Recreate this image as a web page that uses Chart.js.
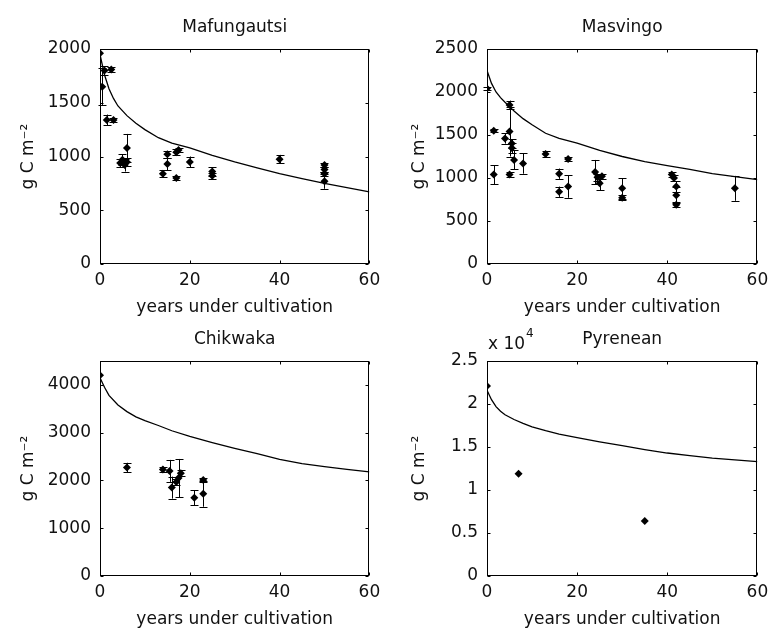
<!DOCTYPE html>
<html>
<head>
<meta charset="utf-8">
<script src="https://cdn.jsdelivr.net/npm/chart.js@4.4.0/dist/chart.umd.min.js"></script>
<style>
	body { margin: 0; background: #fff; }
	canvas { position: absolute; }
</style>
</head>
<body>
<canvas id="mafChart" style="left:0px;top:0px"></canvas>
<canvas id="masChart" style="left:387px;top:0px"></canvas>
<canvas id="chiChart" style="left:0px;top:312px"></canvas>
<canvas id="pyrChart" style="left:387px;top:312px"></canvas>
<script>
// x axis (years under cultivation)
var xTicks = [0, 20, 40, 60];

// Mafungautsi
var mafYTicks = [0, 500, 1000, 1500, 2000];
var mafYears  = [0, 0.5, 1, 2.5, 1.5, 3, 4.5, 5, 5.5, 6, 6, 14, 15, 15, 17, 17, 17.5, 20, 25, 25, 40, 50, 50, 50, 50];
var mafCarbon = [1960, 1650, 1800, 1810, 1340, 1340, 940, 970, 920, 1080, 950, 840, 930, 1020, 800, 1040, 1060, 950, 860, 820, 975, 920, 880, 840, 770];
var mafErr    = [0, 170, 40, 20, 50, 20, 40, 50, 60, 130, 40, 30, 60, 30, 20, 30, 20, 50, 40, 30, 40, 20, 20, 20, 70];
var mafCurveYears = [0, 1, 2, 3, 4, 6, 8, 10, 13, 16, 20, 25, 30, 35, 40, 45, 50, 55, 60];
var mafCurve      = [1950, 1760, 1630, 1540, 1470, 1380, 1310, 1250, 1175, 1125, 1080, 1010, 950, 895, 840, 795, 750, 710, 670];

// Masvingo
var masYTicks = [0, 500, 1000, 1500, 2000, 2500];
var masYears  = [0, 1.5, 1.5, 5, 5, 4, 5, 5.5, 5.5, 6, 8, 13, 16, 16, 18, 18, 24, 24.5, 25, 25.5, 30, 30, 41, 41.5, 42, 42, 42, 55];
var masCarbon = [2040, 1040, 1550, 1850, 1040, 1460, 1540, 1400, 1350, 1210, 1170, 1280, 1050, 840, 900, 1220, 1070, 1010, 940, 1020, 880, 770, 1040, 1000, 900, 800, 690, 880];
var masErr    = [20, 110, 15, 50, 30, 60, 290, 50, 60, 110, 120, 30, 60, 60, 130, 25, 140, 40, 80, 30, 120, 30, 30, 40, 60, 90, 30, 145];
var masCurveYears = [0, 1, 2, 3, 4, 5, 6, 8, 10, 13, 16, 20, 25, 30, 35, 40, 45, 50, 55, 60];
var masCurve      = [2250, 2100, 2000, 1935, 1880, 1830, 1780, 1690, 1620, 1520, 1460, 1405, 1320, 1250, 1190, 1145, 1100, 1050, 1015, 980];

// Chikwaka
var chiYTicks = [0, 1000, 2000, 3000, 4000];
var chiYears  = [0, 6, 14, 15.5, 16, 17, 17.5, 18, 21, 23, 23];
var chiCarbon = [4200, 2270, 2230, 2200, 1850, 1970, 2050, 2150, 1640, 2010, 1720];
var chiErr    = [0, 100, 60, 230, 230, 60, 400, 60, 160, 50, 270];
var chiCurveYears = [0, 1, 2, 4, 6, 8, 10, 13, 16, 20, 25, 30, 35, 40, 45, 50, 55, 60];
var chiCurve      = [4150, 3950, 3780, 3580, 3440, 3330, 3250, 3150, 3040, 2920, 2790, 2670, 2560, 2440, 2350, 2290, 2230, 2180];

// Pyrenean (axis labels in units of 10^4)
var pyrYTicks = [0, 5000, 10000, 15000, 20000, 25000];
var pyrYears  = [0, 7, 35];
var pyrCarbon = [22100, 11900, 6400];
var pyrErr    = [0, 0, 0];
var pyrCurveYears = [0, 1, 2, 3, 4, 6, 8, 10, 13, 16, 20, 25, 30, 35, 40, 45, 50, 55, 60];
var pyrCurve      = [21600, 20500, 19700, 19150, 18750, 18200, 17750, 17350, 16900, 16500, 16100, 15600, 15150, 14700, 14300, 14000, 13700, 13500, 13300];

var FONT = 'DejaVu Sans';
var TXT = '#111';

function toPoints(xs, ys) {
	var pts = [];
	xs.forEach(function(x, i) { pts.push({x: x, y: ys[i]}); });
	return pts;
}

// matlab style: box, inward ticks, error bars, exponent label
var matlabPlugin = {
	id: 'matlabLook',
	afterDatasetsDraw: function(chart) {
		var ctx = chart.ctx;
		var xs = chart.scales.x, ys = chart.scales.y;
		ctx.save();
		ctx.strokeStyle = '#000';
		ctx.lineWidth = 1;
		chart.data.datasets.forEach(function(ds) {
			if (!ds.errors) return;
			ds.data.forEach(function(p, i) {
				var e = ds.errors[i];
				if (!e) return;
				var px = Math.round(xs.getPixelForValue(p.x)) + 0.5;
				var y1 = ys.getPixelForValue(p.y - e);
				var y2 = ys.getPixelForValue(p.y + e);
				ctx.beginPath();
				ctx.moveTo(px, y1); ctx.lineTo(px, y2);
				ctx.moveTo(px - 4, Math.round(y1) + 0.5); ctx.lineTo(px + 4, Math.round(y1) + 0.5);
				ctx.moveTo(px - 4, Math.round(y2) + 0.5); ctx.lineTo(px + 4, Math.round(y2) + 0.5);
				ctx.stroke();
			});
		});
		ctx.restore();
	},
	afterDraw: function(chart) {
		var ctx = chart.ctx;
		var a = chart.chartArea;
		var xs = chart.scales.x, ys = chart.scales.y;
		var L = Math.round(a.left) + 0.5, R = Math.round(a.right) - 0.5;
		var T = Math.round(a.top) + 0.5, B = Math.round(a.bottom) - 0.5;
		ctx.save();
		ctx.strokeStyle = '#000';
		ctx.lineWidth = 1;
		ctx.strokeRect(L, T, R - L, B - T);
		ctx.beginPath();
		xs.ticks.forEach(function(t) {
			var px = Math.round(xs.getPixelForValue(t.value)) + 0.5;
			ctx.moveTo(px, B); ctx.lineTo(px, B - 3);
			ctx.moveTo(px, T); ctx.lineTo(px, T + 3);
		});
		ys.ticks.forEach(function(t) {
			var py = Math.round(ys.getPixelForValue(t.value)) + 0.5;
			ctx.moveTo(L, py); ctx.lineTo(L + 3, py);
			ctx.moveTo(R, py); ctx.lineTo(R - 3, py);
		});
		ctx.stroke();
		var exp = chart.options.plugins.matlabLook && chart.options.plugins.matlabLook.exponent;
		if (exp) {
			ctx.fillStyle = TXT;
			ctx.textBaseline = 'middle';
			ctx.textAlign = 'left';
			ctx.font = '17px "' + FONT + '"';
			ctx.fillText('x 10', a.left + 1, a.top - 16);
			var w = ctx.measureText('x 10').width;
			ctx.font = '12px "' + FONT + '"';
			ctx.fillText(exp, a.left + 2 + w, a.top - 27);
		}
		ctx.restore();
	}
};

function makePanel(id, cfg) {
	var canvas = document.getElementById(id);
	canvas.width = cfg.width;
	canvas.height = 320;

	var options = {
		type: 'scatter',
		data: {
			datasets: [
				{
					type: 'line',
					data: toPoints(cfg.curveYears, cfg.curve),
					borderColor: '#000',
					borderWidth: 1.3,
					pointRadius: 0,
					tension: 0,
					fill: false
				},
				{
					data: toPoints(cfg.years, cfg.carbon),
					errors: cfg.err,
					pointStyle: 'rectRot',
					pointRadius: 4,
					backgroundColor: '#000',
					borderColor: '#000',
					borderWidth: 0
				}
			]
		},
		options: {
			responsive: false,
			animation: false,
			events: [],
			layout: { padding: { left: 0, right: cfg.padRight, top: 0, bottom: 0 } },
			plugins: {
				legend: { display: false },
				tooltip: { enabled: false },
				title: {
					display: true,
					fullSize: false,
					text: cfg.title,
					color: TXT,
					font: { family: FONT, size: 17, weight: 'normal', lineHeight: 1.2 },
					padding: { top: 17.5, bottom: 11.1 }
				},
				matlabLook: { exponent: cfg.exponent }
			},
			scales: {
				x: {
					type: 'linear',
					min: 0,
					max: 60,
					afterBuildTicks: function(s) {
						s.ticks = xTicks.map(function(v) { return {value: v}; });
					},
					afterFit: function(s) { s.height = 56; },
					ticks: { padding: 6.8, color: TXT, font: { family: FONT, size: 17, lineHeight: 1.2 }, maxRotation: 0 },
					grid: { display: false, drawTicks: false },
					border: { display: false },
					title: {
						display: true,
						text: 'years under cultivation',
						color: TXT,
						font: { family: FONT, size: 17, lineHeight: 1.2 },
						padding: { top: 0, bottom: 2.3 }
					}
				},
				y: {
					type: 'linear',
					min: 0,
					max: cfg.yTicks[cfg.yTicks.length - 1] === 4000 ? 4500 : cfg.yTicks[cfg.yTicks.length - 1],
					afterBuildTicks: function(s) {
						s.ticks = cfg.yTicks.map(function(v) { return {value: v}; });
					},
					afterFit: function(s) { s.width = 100; },
					ticks: {
						padding: 9,
						color: TXT,
						font: { family: FONT, size: 17, lineHeight: 1.2 },
						callback: function(v) { return cfg.exponent ? String(v / 10000) : String(v); }
					},
					grid: { display: false, drawTicks: false },
					border: { display: false },
					title: {
						display: true,
						text: 'g C m\u207B\u00B2',
						color: TXT,
						font: { family: FONT, size: 17, lineHeight: 1.2 },
						padding: { top: cfg.yTitlePad, bottom: 0 }
					}
				}
			}
		},
		plugins: [matlabPlugin]
	};

	return new Chart(canvas, options);
}

makePanel('mafChart', {
	width: 387, padRight: 13, yTitlePad: 18.8, title: 'Mafungautsi', yTicks: mafYTicks,
	years: mafYears, carbon: mafCarbon, err: mafErr, curveYears: mafCurveYears, curve: mafCurve
});
makePanel('masChart', {
	width: 388, padRight: 12, yTitlePad: 22.8, title: 'Masvingo', yTicks: masYTicks,
	years: masYears, carbon: masCarbon, err: masErr, curveYears: masCurveYears, curve: masCurve
});
makePanel('chiChart', {
	width: 387, padRight: 13, yTitlePad: 18.8, title: 'Chikwaka', yTicks: chiYTicks,
	years: chiYears, carbon: chiCarbon, err: chiErr, curveYears: chiCurveYears, curve: chiCurve
});
makePanel('pyrChart', {
	width: 388, padRight: 12, yTitlePad: 22.8, title: 'Pyrenean', yTicks: pyrYTicks, exponent: '4',
	years: pyrYears, carbon: pyrCarbon, err: pyrErr, curveYears: pyrCurveYears, curve: pyrCurve
});
</script>
</body>
</html>
